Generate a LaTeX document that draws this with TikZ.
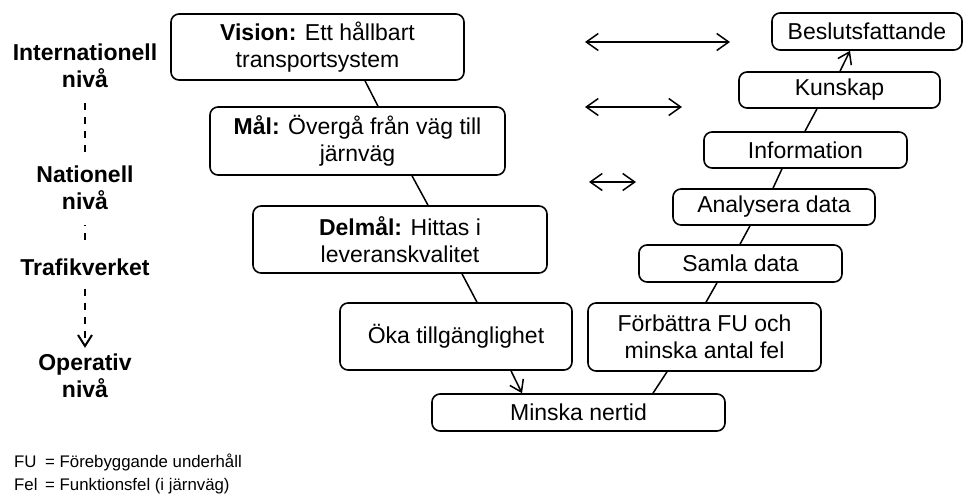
\documentclass[tikz,border=0pt]{standalone}
\usepackage{fontspec}
\setmainfont{Liberation Sans}
\usetikzlibrary{arrows.meta}
\tikzset{
  box/.style={draw, line width=1.6pt, rounded corners=8pt, inner sep=0pt,
    align=center, font=\fontsize{23}{26.5}\selectfont},
  level/.style={align=center, inner sep=0pt,
    font=\fontsize{23}{27}\selectfont\bfseries},
  link/.style={line width=1.5pt},
  barb/.style={line width=1.5pt, -{Straight Barb[length=11pt,width=15pt]}},
  twoway/.style={line width=1.5pt,
    {Straight Barb[length=12pt,width=17pt]}-{Straight Barb[length=12pt,width=17pt]}},
  stepline/.style={line width=2pt, dash pattern=on 7pt off 7pt},
  note/.style={inner sep=0pt, anchor=base west, font=\fontsize{16.8}{20}\selectfont}
}
\begin{document}
\begin{tikzpicture}[x=1pt,y=-1pt]
\useasboundingbox (0,0) rectangle (964,496);

% goal hierarchy (left branch, going down)
\node[box, minimum width=293pt, minimum height=66pt] (vision) at (317.5,47)
  {\textbf{Vision:} Ett hållbart\\transportsystem};
\node[box, minimum width=295pt, minimum height=68pt] (mal) at (357.5,141)
  {\textbf{Mål:} Övergå från väg till\\järnväg};
\node[box, minimum width=294pt, minimum height=67pt] (delmal) at (400,239.5)
  {\textbf{Delmål:} Hittas i\\leveranskvalitet};
\node[box, minimum width=232pt, minimum height=67pt] (oka) at (456,336.5)
  {Öka tillgänglighet};
\node[box, minimum width=293pt, minimum height=37pt] (nertid) at (578.5,412.5)
  {Minska nertid};

% data-to-decision chain (right branch, going up)
\node[box, minimum width=233pt, minimum height=68pt] (fu) at (704.5,337)
  {Förbättra FU och\\minska antal fel};
\node[box, minimum width=203pt, minimum height=37pt] (samla) at (740.5,263.5)
  {Samla data};
\node[box, minimum width=202pt, minimum height=36pt] (analys) at (774,207)
  {Analysera data};
\node[box, minimum width=203pt, minimum height=36pt] (info) at (805.5,150)
  {Information};
\node[box, minimum width=201pt, minimum height=36pt] (kunskap) at (839.5,90)
  {Kunskap};
\node[box, minimum width=190pt, minimum height=37pt] (beslut) at (867,31.5)
  {Beslutsfattande};

% links of the V
\draw[link] ([xshift=47.5pt]vision.south) -- ([xshift=20.5pt]mal.north);
\draw[link] ([xshift=54.5pt]mal.south) -- ([xshift=28pt]delmal.north);
\draw[link] ([xshift=62pt]delmal.south) -- ([xshift=21pt]oka.north);
\draw[barb] ([xshift=55pt]oka.south) -- ([xshift=-56.5pt]nertid.north);
\draw[link] ([xshift=74.5pt]nertid.north) -- ([xshift=-37.5pt]fu.south);
\draw[link] ([xshift=1.5pt]fu.north) -- ([xshift=-23.5pt]samla.south);
\draw[link] ([xshift=-0.5pt]samla.north) -- ([xshift=-24pt]analys.south);
\draw[link] ([xshift=-1pt]analys.north) -- ([xshift=-23.5pt]info.south);
\draw[link] ([xshift=-0.5pt]info.north) -- ([xshift=-22.5pt]kunskap.south);
\draw[barb] ([xshift=0.5pt]kunskap.north) -- ([xshift=-17pt]beslut.south);

% correspondences between the two branches
\coordinate (a1) at (585,42);  \coordinate (b1) at (730,42);
\coordinate (a2) at (585,107); \coordinate (b2) at (682,107);
\coordinate (a3) at (589,182); \coordinate (b3) at (636,182);
\draw[twoway] (a1) -- (b1);
\draw[twoway] (a2) -- (b2);
\draw[twoway] (a3) -- (b3);

% levels on the left
\node[level] (intl) at (85,66) {Internationell\\nivå};
\node[level] (natl) at (85,188) {Nationell\\nivå};
\node[level] (traf) at (85,267) {Trafikverket};
\node[level] (oper) at (85,376) {Operativ\\nivå};
\draw[stepline, shorten <=15pt, shorten >=14pt] (intl.south) -- (natl.north);
\draw[stepline, dash phase=6pt, shorten <=15pt, shorten >=18pt] (natl.south) -- (traf.north);
\draw[stepline, shorten <=13pt, shorten >=6pt,
  -{Straight Barb[length=11pt,width=14pt,line width=2pt]}] (traf.south) -- (oper.north);

% abbreviations
\node[note] (fuk) at (14,467) {FU};
\node[note] (fud) at (45,467) {= Förebyggande underhåll};
\node[note] (felk) at (14,490) {Fel};
\node[note] (feld) at (45,490) {= Funktionsfel (i järnväg)};
\end{tikzpicture}
\end{document}
